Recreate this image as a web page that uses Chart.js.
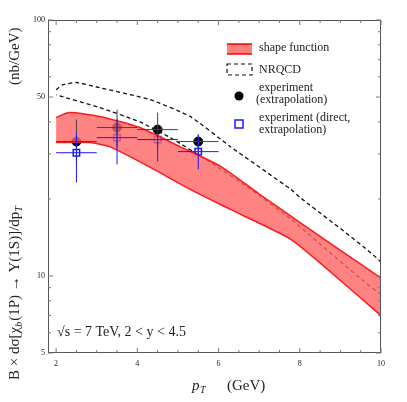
<!DOCTYPE html>
<html><head><meta charset="utf-8">
<script src="https://cdn.jsdelivr.net/npm/chart.js@4"></script>
<style>html,body{margin:0;padding:0;background:#fff}#w{width:407px;height:402px}</style>
</head><body><div id="w"><canvas id="c"></canvas></div>
<script>
const upperPT = [2, 2.32, 3.07, 4.06, 5.05, 6.05, 7, 8, 9, 10];
const bandUpper = [41.6, 43.5, 42, 38, 32, 26.8, 20.9, 16.2, 12.6, 9.8];
const lowerPT = [2, 2.82, 3.32, 4.31, 5.3, 6.29, 7.78, 9, 10];
const bandLower = [33.2, 33.2, 32, 26.6, 21.8, 18.2, 13.9, 9.6, 7.0];
const nrqcdPT = [2, 2.15, 2.5, 3.07, 4.31, 5.3, 6.29, 7.78, 8, 10, 10, 7.78, 6.79, 5.8, 4.8, 4.06, 3.07, 2];
const nrqcdVal = [53.4, 55.8, 57, 54.4, 48.9, 42, 32, 21.8, 20.3, 11.3, 8.5, 16.7, 21.8, 27.8, 34.8, 40, 45.5, 51];
const expPT = [2.5, 3.5, 4.5, 5.5];
const expVal = [33.5, 38, 37.3, 33.5];
const expLo = [27.7, 32, 32, 29.5];
const expHi = [40.9, 44.6, 43.5, 35.7];
const dirVal = [30.3, 34.7, 34.1, 30.6];
const dirLo = [23.2, 27.3, 28.0, 26.1];
const dirHi = [36.3, 40.9, 38.4, 35.7];
const xTicks = [2, 4, 6, 8, 10];
const yTicks = [5, 10, 50, 100];

const SERIF = '"Liberation Serif","DejaVu Serif",serif';
const pts = (xs, ys) => xs.map((x, i) => ({x, y: ys[i]}));

const deco = {
  id: 'deco',
  afterDatasetsDraw(chart) {
    const {ctx, scales: {x, y}} = chart;
    ctx.save();
    const bars = (vals, lo, hi, col) => {
      ctx.strokeStyle = col; ctx.lineWidth = 1;
      expPT.forEach((p, i) => {
        const px = x.getPixelForValue(p), py = y.getPixelForValue(vals[i]);
        ctx.beginPath();
        ctx.moveTo(px, y.getPixelForValue(lo[i])); ctx.lineTo(px, y.getPixelForValue(hi[i]));
        ctx.moveTo(x.getPixelForValue(p - 0.5), py); ctx.lineTo(x.getPixelForValue(p + 0.5), py);
        ctx.stroke();
      });
    };
    bars(expVal, expLo, expHi, '#444');
    bars(dirVal, dirLo, dirHi, '#1a1aff');
    ctx.restore();
  },
  afterDraw(chart) {
    const {ctx, chartArea: a, scales: {x, y}} = chart;
    ctx.save();
    ctx.strokeStyle = '#555'; ctx.lineWidth = 1;
    ctx.strokeRect(a.left + .5, a.top + .5, a.width - 1, a.height - 1);
    ctx.strokeStyle = '#777';
    for (let v = 2; v <= 10; v += 0.5) {
      const px = x.getPixelForValue(v), L = (v % 2 === 0) ? 5 : 3;
      ctx.beginPath(); ctx.moveTo(px, a.bottom); ctx.lineTo(px, a.bottom - L);
      ctx.moveTo(px, a.top); ctx.lineTo(px, a.top + L); ctx.stroke();
    }
    const ym = [5,6,7,8,9,10,20,30,40,50,60,70,80,90,100];
    ym.forEach(v => {
      const py = y.getPixelForValue(v), L = yTicks.includes(v) ? 5 : 3;
      ctx.beginPath(); ctx.moveTo(a.left, py); ctx.lineTo(a.left + L, py);
      ctx.moveTo(a.right, py); ctx.lineTo(a.right - L, py); ctx.stroke();
    });
    ctx.fillStyle = '#222'; ctx.font = '8px ' + SERIF;
    ctx.textAlign = 'center'; ctx.textBaseline = 'top';
    xTicks.forEach(v => ctx.fillText(String(v), x.getPixelForValue(v), a.bottom + 7));
    ctx.textAlign = 'right'; ctx.textBaseline = 'middle';
    yTicks.forEach(v => ctx.fillText(String(v), a.left - 3, y.getPixelForValue(v)));
    ctx.font = 'italic 15px ' + SERIF; ctx.textAlign = 'left'; ctx.textBaseline = 'alphabetic';
    ctx.fillText('p', 192, 390);
    ctx.font = 'italic 10px ' + SERIF; ctx.fillText('T', 200, 393);
    ctx.font = '15px ' + SERIF; ctx.fillText('(GeV)', 227, 390);
    ctx.save(); ctx.translate(19, 380); ctx.rotate(-Math.PI / 2);
    ctx.font = '15px ' + SERIF; ctx.textAlign = 'left';
    ctx.fillText('B × dσ[χ', 0, 0);
    let w = ctx.measureText('B × dσ[χ').width;
    ctx.font = 'italic 10px ' + SERIF; ctx.fillText('b', w, 3); w += 6;
    ctx.font = '15px ' + SERIF; ctx.fillText('(1P) → Υ(1S)]/dp', w, 0);
    w += ctx.measureText('(1P) → Υ(1S)]/dp').width;
    ctx.font = 'italic 10px ' + SERIF; ctx.fillText('T', w, 3);
    ctx.font = '15px ' + SERIF; ctx.fillText('(nb/GeV)', 295, 0);
    ctx.restore();
    ctx.font = '14px ' + SERIF; ctx.textAlign = 'left';
    ctx.fillText('√s = 7 TeV, 2 < y < 4.5', 57, 336);
    ctx.font = '12px ' + SERIF;
    ctx.fillStyle = '#ff7f7f'; ctx.strokeStyle = '#ff0000'; ctx.lineWidth = 1.5;
    ctx.fillRect(227, 44, 25, 10);
    ctx.beginPath(); ctx.moveTo(227, 44); ctx.lineTo(252, 44); ctx.moveTo(227, 54); ctx.lineTo(252, 54); ctx.stroke();
    ctx.setLineDash([4, 3]); ctx.strokeStyle = '#111'; ctx.lineWidth = 1.2;
    ctx.strokeRect(227, 64, 25, 11); ctx.setLineDash([]);
    ctx.fillStyle = '#000';
    ctx.beginPath(); ctx.arc(239, 96, 4.5, 0, 2 * Math.PI); ctx.fill();
    ctx.strokeStyle = '#1a1aff'; ctx.lineWidth = 1.5; ctx.strokeRect(235, 120, 8, 8);
    ctx.fillStyle = '#222'; ctx.textBaseline = 'middle';
    ctx.fillText('shape function', 259, 48);
    ctx.fillText('NRQCD', 259, 70);
    ctx.fillText('experiment', 259, 88);
    ctx.fillText('(extrapolation)', 256, 100);
    ctx.fillText('experiment (direct,', 259, 118);
    ctx.fillText('extrapolation)', 259, 130);
    ctx.restore();
  }
};

new Chart(document.getElementById('c'), {
  type: 'scatter',
  data: { datasets: [
    {data: pts(lowerPT, bandLower), showLine: true, borderColor: '#ff1a1a', borderWidth: 1.5, pointRadius: 0, tension: 0.2, fill: false},
    {data: pts(upperPT, bandUpper), showLine: true, borderColor: '#ff1a1a', borderWidth: 1.5, pointRadius: 0, tension: 0.2, fill: '-1', backgroundColor: 'rgba(255,100,100,0.8)'},
    {data: pts(nrqcdPT, nrqcdVal), showLine: true, borderColor: '#111', borderWidth: 1.3, borderDash: [4, 3], pointRadius: 0, tension: 0.15, fill: false},
    {data: pts(expPT, dirVal), pointStyle: 'rect', pointRadius: 4.5, borderColor: '#1a1aff', borderWidth: 1.5, backgroundColor: 'rgba(0,0,0,0)'},
    {data: pts(expPT, expVal), pointRadius: 4.5, backgroundColor: '#000', borderColor: '#000'}
  ]},
  options: {
    responsive: true, maintainAspectRatio: false, animation: false,
    layout: {padding: {left: 48, right: 26, top: 20, bottom: 49}},
    plugins: {legend: {display: false}, tooltip: {enabled: false}},
    scales: {
      x: {type: 'linear', min: 1.8, max: 10, display: false},
      y: {type: 'logarithmic', min: 5, max: 100, display: false}
    }
  },
  plugins: [deco]
});
</script></body></html>
